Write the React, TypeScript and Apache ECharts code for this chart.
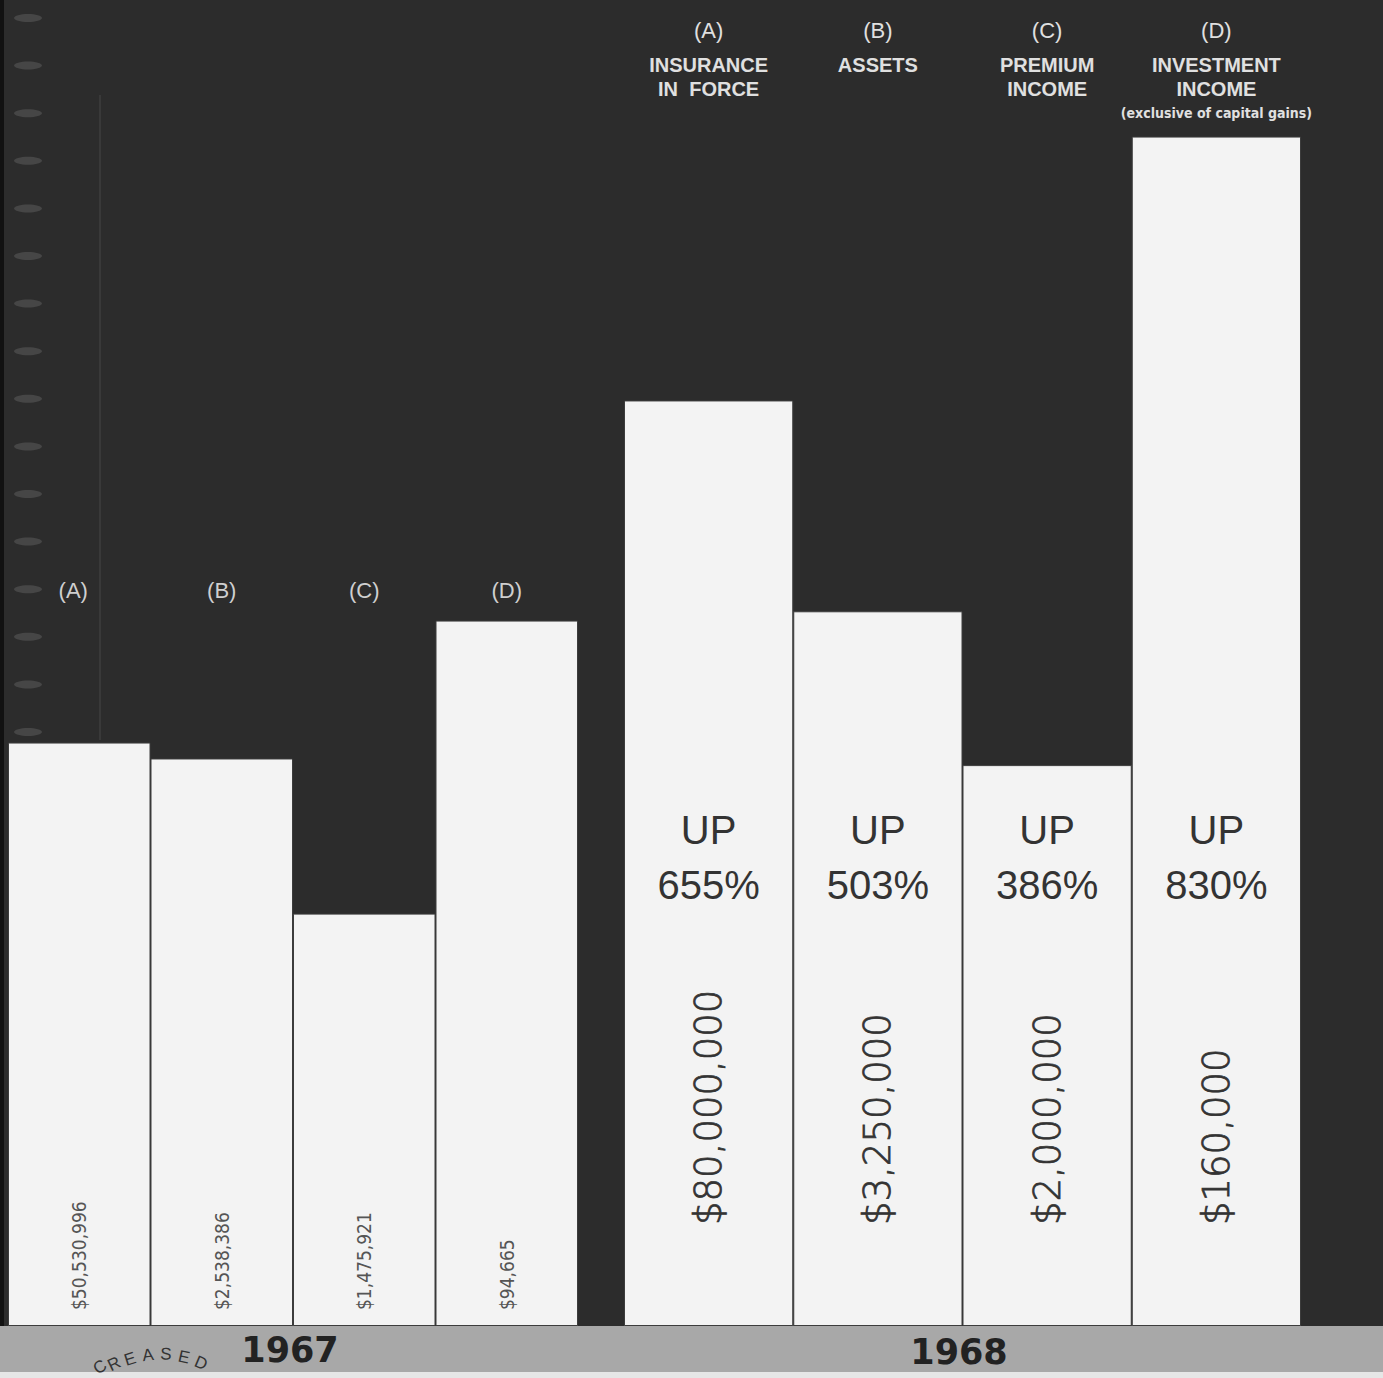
import React, { useEffect, useRef } from "react";
import * as echarts from "echarts";

// Categories
const letters = ["(A)", "(B)", "(C)", "(D)"];
const headers68 = ["INSURANCE\nIN  FORCE", "ASSETS", "PREMIUM\nINCOME", "INVESTMENT\nINCOME"];
const headerNote = "(exclusive of capital gains)";
const years = ["1967", "1968"];

// Pictorial bar heights (as drawn, % of panel height)
const heights67 = [44.0, 42.8, 31.1, 53.2];
const heights68 = [69.8, 53.9, 42.3, 89.7];

// Value labels
const values67 = ["$50,530,996", "$2,538,386", "$1,475,921", "$94,665"];
const values68 = ["$80,000,000", "$3,250,000", "$2,000,000", "$160,000"];
const increases = ["655%", "503%", "386%", "830%"];

const W = 1383;
const H = 1378;
const BASE = 1326;
const G67 = { left: 8, width: 570 };
const G68 = { left: 624, width: 677 };

function center(g: { left: number; width: number }, i: number) {
  return g.left + ((i + 0.5) * g.width) / 4;
}

export default function App() {
  const ref = useRef<HTMLDivElement>(null);
  useEffect(() => {
    if (!ref.current) return;
    const chart = echarts.init(ref.current, null, { renderer: "svg" });
    const graphics: any[] = [];

    // bottom band
    graphics.push({ type: "rect", shape: { x: 0, y: BASE, width: W, height: 46 }, style: { fill: "#a8a8a8" }, z: 1 });
    graphics.push({ type: "rect", shape: { x: 0, y: BASE + 46, width: W, height: H - BASE - 46 }, style: { fill: "#e6e6e6" }, z: 1 });
    // faint guide line
    graphics.push({ type: "line", shape: { x1: 100, y1: 95, x2: 100, y2: 740 }, style: { stroke: "#474747", lineWidth: 1 }, z: 1 });
    // left ragged edge marks
    graphics.push({ type: "rect", shape: { x: 0, y: 0, width: 4, height: BASE }, style: { fill: "#111" }, z: 2 });
    for (let k = 0; k < 28; k++) {
      const y = 18 + k * 47.6;
      graphics.push({ type: "ellipse", shape: { cx: 28, cy: y, rx: 14, ry: 4 }, style: { fill: "rgba(190,190,190,0.18)" }, z: 2 });
    }

    // 1967 letters
    letters.forEach((t, i) => {
      graphics.push({
        type: "text", x: center(G67, i) - (i === 0 ? 6 : 0), y: 590, z: 5,
        style: { text: t, fill: "#cfcfcf", font: "22px 'Liberation Sans', sans-serif", align: "center", verticalAlign: "middle" },
      });
    });
    // 1968 headers
    letters.forEach((t, i) => {
      const cx = center(G68, i);
      graphics.push({
        type: "text", x: cx, y: 30, z: 5,
        style: { text: t, fill: "#e0e0e0", font: "22px 'Liberation Sans', sans-serif", align: "center", verticalAlign: "middle" },
      });
      graphics.push({
        type: "text", x: cx, y: 53, z: 5,
        style: { text: headers68[i], fill: "#e0e0e0", font: "bold 20px 'Liberation Sans', sans-serif", align: "center", verticalAlign: "top", lineHeight: 24 },
      });
      graphics.push({
        type: "text", x: cx, y: 830, z: 5,
        style: { text: "UP", fill: "#333", font: "40px 'Liberation Sans', sans-serif", align: "center", verticalAlign: "middle" },
      });
      graphics.push({
        type: "text", x: cx, y: 885, z: 5,
        style: { text: increases[i], fill: "#333", font: "40px 'Liberation Sans', sans-serif", align: "center", verticalAlign: "middle" },
      });
    });
    graphics.push({
      type: "text", x: center(G68, 3), y: 113, z: 5,
      style: { text: headerNote, fill: "#e0e0e0", font: "bold 14px 'Liberation Sans Narrow', 'DejaVu Sans Condensed', sans-serif", align: "center", verticalAlign: "middle" },
    });
    // year labels
    graphics.push({
      type: "text", x: 290, y: 1350, z: 5,
      style: { text: years[0], fill: "#222", font: "bold 35px 'DejaVu Sans', sans-serif", align: "center", verticalAlign: "middle" },
    });
    graphics.push({
      type: "text", x: 959, y: 1352, z: 5,
      style: { text: years[1], fill: "#222", font: "bold 35px 'DejaVu Sans', sans-serif", align: "center", verticalAlign: "middle" },
    });
    // stamp fragment
    const stamp = [
      { c: "C", x: 100, y: 1367, r: 0.6 },
      { c: "R", x: 114, y: 1364, r: 0.45 },
      { c: "E", x: 130, y: 1359, r: 0.3 },
      { c: "A", x: 148, y: 1355, r: 0.12 },
      { c: "S", x: 166, y: 1354, r: -0.05 },
      { c: "E", x: 184, y: 1357, r: -0.22 },
      { c: "D", x: 201, y: 1363, r: -0.4 },
    ];
    stamp.forEach((s) => {
      graphics.push({
        type: "text", x: s.x, y: s.y, rotation: s.r, z: 5,
        style: { text: s.c, fill: "#333", font: "17px 'Liberation Sans', sans-serif", align: "center", verticalAlign: "middle" },
      });
    });

    const barStyle = { color: "#f3f3f3", borderColor: "#3c3c3c", borderWidth: 1 };

    chart.setOption({
      animation: false,
      backgroundColor: "#2c2c2c",
      grid: [
        { left: G67.left, width: G67.width, top: 0, height: BASE },
        { left: G68.left, width: G68.width, top: 0, height: BASE },
      ],
      xAxis: [
        { type: "category", gridIndex: 0, data: letters, show: false },
        { type: "category", gridIndex: 1, data: letters, show: false },
      ],
      yAxis: [
        { type: "value", gridIndex: 0, min: 0, max: 100, show: false },
        { type: "value", gridIndex: 1, min: 0, max: 100, show: false },
      ],
      series: [
        {
          type: "bar", xAxisIndex: 0, yAxisIndex: 0, data: heights67,
          barCategoryGap: "0%", itemStyle: barStyle, z: 3,
          label: {
            show: true, position: "insideBottom", rotate: 90, align: "left", verticalAlign: "middle", distance: 16,
            formatter: (p: any) => values67[p.dataIndex],
            color: "#555", fontSize: 19, fontFamily: "'Liberation Sans Narrow', 'DejaVu Sans Condensed', sans-serif",
          },
        },
        {
          type: "bar", xAxisIndex: 1, yAxisIndex: 1, data: heights68,
          barCategoryGap: "0%", itemStyle: barStyle, z: 3,
          label: {
            show: true, position: "insideBottom", rotate: 90, align: "left", verticalAlign: "middle", distance: 101,
            formatter: (p: any) => values68[p.dataIndex],
            color: "#333", fontSize: 37, fontWeight: 200, fontFamily: "'DejaVu Sans', sans-serif",
            textBorderColor: "#333", textBorderWidth: 0.8,
          },
        },
      ],
      graphic: graphics,
    });
    return () => chart.dispose();
  }, []);
  return <div ref={ref} style={{ position: "fixed", left: 0, top: 0, width: W, height: H }} />;
}
